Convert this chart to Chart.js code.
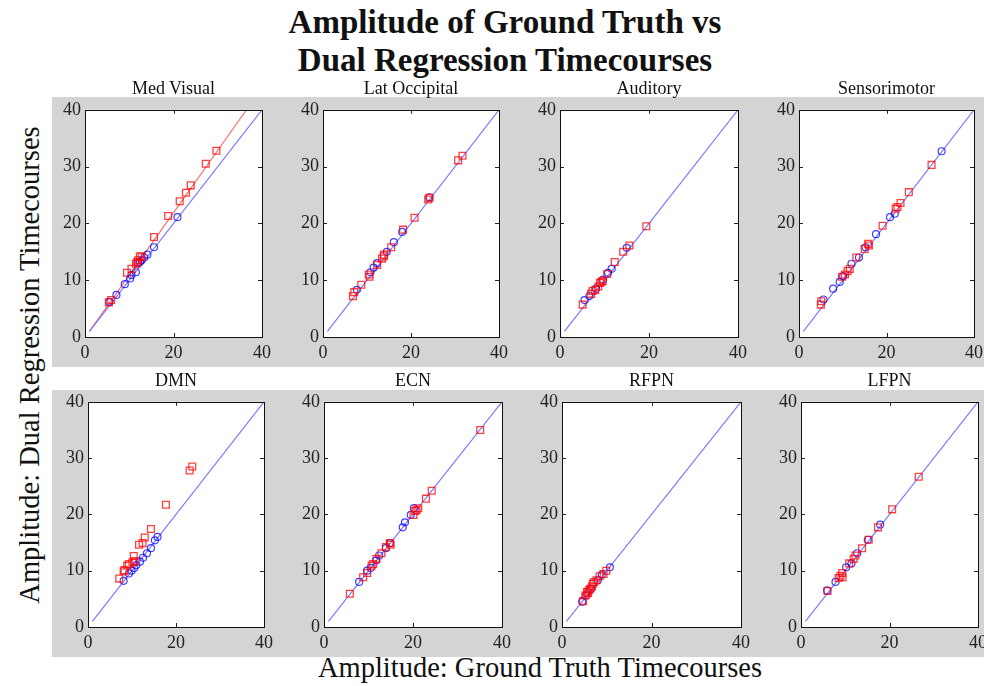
<!DOCTYPE html>
<html>
<head>
<meta charset="utf-8">
<script src="https://cdn.jsdelivr.net/npm/chart.js@4.4.1/dist/chart.umd.min.js"></script>
<style>
  html, body { margin:0; padding:0; background:#fff; }
  #fig { position:relative; width:984px; height:686px; overflow:hidden; background:#fff; font-family:"Liberation Serif","DejaVu Serif",serif; color:#111; }
  .band { position:absolute; background:#d4d4d4; }
  .txt { position:absolute; white-space:nowrap; transform:translate(-50%,-50%); }
  canvas { position:absolute; }
</style>
</head>
<body>
<div id="fig">
  <div class="band" style="left:52px;top:97px;width:932px;height:270px"></div>
  <div class="band" style="left:52px;top:390px;width:932px;height:267px"></div>
</div>
<script>
// ---------------- DATA ----------------
const mainTitleLines = ["Amplitude of Ground Truth vs", "Dual Regression Timecourses"];
const xAxisLabel = "Amplitude: Ground Truth Timecourses";
const yAxisLabel = "Amplitude: Dual Regression Timecourses";
const panelTitles = ["Med Visual", "Lat Occipital", "Auditory", "Sensorimotor", "DMN", "ECN", "RFPN", "LFPN"];
const axisMin = 0, axisMax = 40;
const xTickStep = 20, yTickStep = 10;

// red squares: [ground truth, dual regression]
const medVisualSquares = [[5.4,6.1],[5.9,6.5],[9.5,11.3],[10.5,12.0],[11.5,12.9],[11.8,13.2],[12.0,13.5],[12.4,14.2],[12.8,14.1],[15.6,17.6],[18.8,21.3],[21.4,23.9],[22.8,25.4],[23.9,26.7],[27.3,30.5],[29.7,32.8]];
const latOccipitalSquares = [[6.8,7.2],[7.1,7.9],[8.7,9.2],[10.4,11.0],[10.6,10.6],[12.3,12.7],[13.4,13.8],[13.8,14.2],[13.9,14.5],[15.5,15.8],[18.2,18.9],[20.8,21.0],[23.9,24.2],[24.2,24.5],[30.7,31.1],[31.7,31.9]];
const auditorySquares = [[5.1,5.7],[7.0,7.6],[7.3,8.1],[7.9,8.3],[8.6,8.9],[9.0,9.5],[9.3,9.7],[9.6,9.85],[10.6,11.1],[12.3,13.2],[14.2,15.0],[15.6,16.1],[19.4,19.5]];
const sensorimotorSquares = [[5.0,5.7],[5.1,6.3],[9.8,10.6],[10.5,11.0],[11.1,11.6],[11.6,12.0],[13.1,14.0],[15.0,15.5],[15.8,16.4],[16.0,16.1],[19.1,19.6],[22.1,22.6],[22.5,22.9],[23.2,23.6],[25.1,25.5],[30.3,30.3]];
const dmnSquares = [[7.1,8.6],[8.1,9.9],[8.3,10.1],[8.9,10.9],[9.3,11.2],[10.1,11.5],[10.4,12.6],[10.6,11.7],[11.6,14.6],[12.4,14.9],[12.9,15.9],[14.3,17.4],[17.7,21.7],[23.1,27.8],[23.7,28.5]];
const ecnSquares = [[5.8,5.9],[8.8,8.85],[9.7,9.6],[10.7,10.9],[11.05,11.2],[11.8,12.1],[12.9,13.1],[13.9,14.2],[14.8,14.9],[15.0,14.6],[20.1,19.9],[20.5,20.6],[20.8,20.8],[21.2,21.1],[22.9,22.8],[24.2,24.2],[35.1,35.0]];
const rfpnSquares = [[4.7,4.6],[5.2,5.6],[5.6,6.2],[5.8,6.0],[6.0,6.5],[6.3,6.8],[6.7,7.2],[6.9,7.7],[7.2,8.0],[7.7,8.3],[8.4,9.0],[9.3,9.4],[9.9,10.0]];
const lfpnSquares = [[6.0,6.4],[8.5,8.7],[8.9,9.1],[9.3,9.6],[9.4,8.85],[10.9,11.3],[11.9,12.1],[12.3,12.7],[13.8,14.0],[15.3,15.5],[17.4,17.7],[20.6,20.9],[26.6,26.7]];

// blue circles: [ground truth, dual regression]
const medVisualCircles = [[5.5,6.2],[7.1,7.4],[9.0,9.3],[10.2,10.3],[10.5,10.9],[11.5,11.4],[12.0,13.0],[12.4,13.2],[12.8,13.5],[13.4,14.0],[14.1,14.5],[15.6,15.8],[20.9,21.1]];
const latOccipitalCircles = [[7.7,8.3],[10.8,11.4],[11.5,12.2],[12.3,13.0],[14.5,15.0],[16.1,16.7],[18.0,18.5],[24.2,24.6]];
const auditoryCircles = [[5.5,6.5],[6.6,7.2],[8.1,8.5],[9.7,10.1],[10.8,11.3],[11.6,12.0],[15.0,15.7]];
const sensorimotorCircles = [[5.6,6.6],[7.8,8.5],[9.3,9.7],[10.1,10.7],[12.0,12.9],[13.7,14.0],[15.2,15.8],[17.6,18.1],[20.8,21.1],[21.9,21.7],[32.6,32.7]];
const dmnCircles = [[8.1,8.2],[9.3,9.5],[9.9,10.0],[10.5,10.5],[11.0,11.0],[11.8,11.6],[12.5,12.3],[13.4,13.1],[14.3,14.0],[15.2,15.4],[15.8,16.0]];
const ecnCircles = [[7.9,8.0],[9.7,10.0],[10.5,10.5],[11.7,11.8],[12.4,12.7],[13.9,14.0],[14.8,14.9],[17.7,17.7],[18.2,18.6],[19.5,19.9],[20.2,21.1]];
const rfpnCircles = [[4.5,4.5],[5.4,5.6],[6.5,6.8],[8.0,8.3],[8.9,9.3],[10.7,10.6]];
const lfpnCircles = [[5.9,6.5],[7.8,8.0],[10.2,10.6],[11.4,11.3],[12.7,13.1],[15.1,15.5],[17.9,18.2]];

// fit lines: endpoints [x, y]; red fit only visible where it departs from the blue one
const blueFitLine = [[1,1],[40,40]];
const redFitLines = [[[1,1],[36.5,40]], null, null, null, null, null, null, null];

const squareSets = [medVisualSquares, latOccipitalSquares, auditorySquares, sensorimotorSquares, dmnSquares, ecnSquares, rfpnSquares, lfpnSquares];
const circleSets = [medVisualCircles, latOccipitalCircles, auditoryCircles, sensorimotorCircles, dmnCircles, ecnCircles, rfpnCircles, lfpnCircles];

// ---------------- LAYOUT ----------------
const plotBoxes = [
  [85,109,262,337],[323,109,499,337],[560,109,738,337],[799,109,974,337],
  [88,401,264,627],[324,401,502,627],[562,401,741,627],[801,401,978,627]
];
const titleY = [88, 88, 88, 88, 380, 380, 380, 380];
const PADL = 44, PADT = 14, PADR = 16, PADB = 34;

const fig = document.getElementById('fig');
function addText(txt, x, y, style) {
  const d = document.createElement('div');
  d.className = 'txt';
  d.textContent = txt;
  d.style.left = x + 'px';
  d.style.top = y + 'px';
  Object.assign(d.style, style || {});
  fig.appendChild(d);
  return d;
}
addText(mainTitleLines[0], 505, 22, {fontWeight:'bold', fontSize:'33px'});
addText(mainTitleLines[1], 505, 60, {fontWeight:'bold', fontSize:'33px'});
addText(xAxisLabel, 540, 668, {fontSize:'28.5px'});
addText(yAxisLabel, 30, 365, {fontSize:'28.5px', transform:'translate(-50%,-50%) rotate(-90deg)'});

const tickFont = {family:'"Liberation Serif", serif', size:18};

const boxPlugin = {
  id: 'matlabBox',
  beforeDraw(chart) {
    const a = chart.chartArea, ctx = chart.ctx;
    ctx.save();
    ctx.fillStyle = '#ffffff';
    ctx.fillRect(a.left, a.top, a.right - a.left, a.bottom - a.top);
    ctx.restore();
  },
  afterDraw(chart) {
    const a = chart.chartArea, ctx = chart.ctx;
    const xs = chart.scales.x, ys = chart.scales.y;
    ctx.save();
    ctx.strokeStyle = '#222';
    ctx.lineWidth = 1;
    ctx.beginPath();
    xs.ticks.forEach(t => {
      if (t.value <= axisMin || t.value >= axisMax) return;
      const px = Math.round(xs.getPixelForValue(t.value)) + 0.5;
      ctx.moveTo(px, a.bottom); ctx.lineTo(px, a.bottom - 4);
      ctx.moveTo(px, a.top); ctx.lineTo(px, a.top + 4);
    });
    ys.ticks.forEach(t => {
      if (t.value <= axisMin || t.value >= axisMax) return;
      const py = Math.round(ys.getPixelForValue(t.value)) + 0.5;
      ctx.moveTo(a.left, py); ctx.lineTo(a.left + 4, py);
      ctx.moveTo(a.right, py); ctx.lineTo(a.right - 4, py);
    });
    ctx.stroke();
    ctx.strokeStyle = '#111';
    ctx.strokeRect(Math.round(a.left) + 0.5, Math.round(a.top) + 0.5, Math.round(a.right - a.left), Math.round(a.bottom - a.top));
    ctx.restore();
  }
};

function toPoints(arr) { return arr.map(p => ({x:p[0], y:p[1]})); }

plotBoxes.forEach((b, i) => {
  const [L, T, R, B] = b;
  const cv = document.createElement('canvas');
  const w = (R - L) + PADL + PADR, h = (B - T) + PADT + PADB;
  cv.width = w; cv.height = h;
  cv.style.left = (L - PADL) + 'px';
  cv.style.top = (T - PADT) + 'px';
  cv.style.width = w + 'px'; cv.style.height = h + 'px';
  fig.appendChild(cv);
  addText(panelTitles[i], (L + R) / 2, titleY[i], {fontSize:'18px'});

  const datasets = [
    { data: toPoints(squareSets[i]), pointStyle:'rect', pointRadius:4.8, pointBorderWidth:1.3,
      pointBorderColor:'rgba(255,0,0,0.75)', pointBackgroundColor:'rgba(0,0,0,0)', showLine:false },
    { data: toPoints(circleSets[i]), pointStyle:'circle', pointRadius:3.5, pointBorderWidth:1.2,
      pointBorderColor:'rgba(0,0,255,0.75)', pointBackgroundColor:'rgba(0,0,0,0)', showLine:false },
    { data: toPoints(blueFitLine), showLine:true, pointRadius:0, borderColor:'#7575ff', borderWidth:1.1, fill:false }
  ];
  if (redFitLines[i]) {
    datasets.push({ data: toPoints(redFitLines[i]), showLine:true, pointRadius:0, borderColor:'#ff6262', borderWidth:1.1, fill:false });
  }

  new Chart(cv, {
    type: 'scatter',
    data: { datasets },
    options: {
      responsive:false, animation:false, devicePixelRatio:1,
      layout: { padding: { left:0, top:PADT, right:PADR, bottom:0 } },
      plugins: { legend:{display:false}, tooltip:{enabled:false}, title:{display:false} },
      scales: {
        x: {
          type:'linear', min:axisMin, max:axisMax,
          ticks:{ stepSize:xTickStep, color:'#222', font:tickFont, padding:5, maxRotation:0, autoSkip:false },
          grid:{ display:false, drawTicks:false }, border:{ display:false },
          afterFit(s){ s.height = PADB; }
        },
        y: {
          type:'linear', min:axisMin, max:axisMax,
          ticks:{ stepSize:yTickStep, color:'#222', font:tickFont, padding:4, autoSkip:false },
          grid:{ display:false, drawTicks:false }, border:{ display:false },
          afterFit(s){ s.width = PADL; }
        }
      }
    },
    plugins: [boxPlugin]
  });
});
</script>
</body>
</html>
